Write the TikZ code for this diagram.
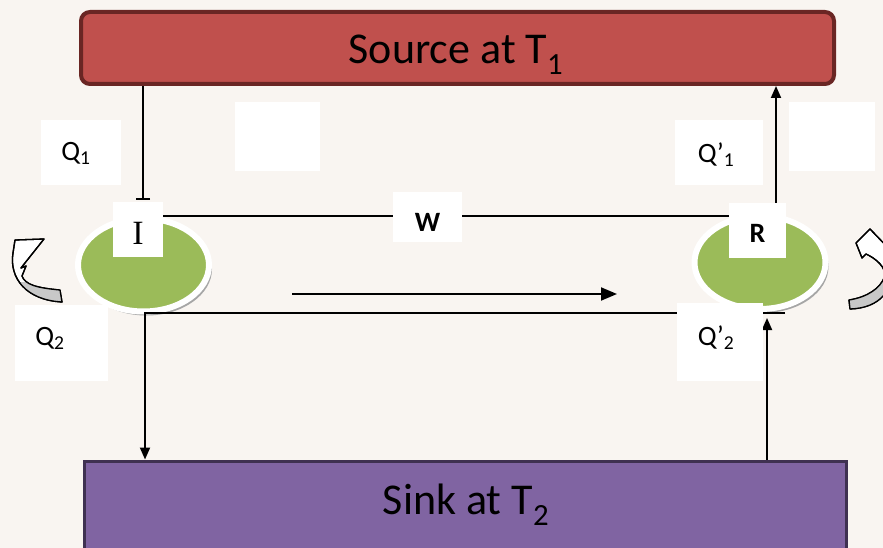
\documentclass[tikz,border=0pt]{standalone}
\usepackage{fontspec}
\setmainfont{Carlito}
\newfontfamily\serifI{Liberation Serif}
\usetikzlibrary{arrows.meta,shapes.geometric,shadows}
\definecolor{bgcol}{HTML}{F9F5F1}
\definecolor{srcfill}{HTML}{C0504D}
\definecolor{srcdraw}{HTML}{6A2624}
\definecolor{sinkfill}{HTML}{8064A2}
\definecolor{sinkdraw}{HTML}{3F3151}
\definecolor{engfill}{HTML}{9BBB59}
\definecolor{curvegray}{HTML}{C8C8C8}
\begin{document}
\begin{tikzpicture}[x=1pt,y=-1pt,
  conn/.style={line width=1.9pt,draw=black},
  tip/.style={-{Triangle[length=12pt,width=10pt]}},
  bigtip/.style={-{Triangle[length=16pt,width=13pt]}},
  whitebox/.style={rectangle,fill=white,draw=none,inner sep=0pt},
  lbl/.style={inner sep=0pt,font=\fontsize{28}{32}\selectfont},
  blbl/.style={inner sep=0pt,font=\fontsize{28}{32}\selectfont\bfseries},
  bigtxt/.style={inner sep=0pt,font=\fontsize{44}{50}\selectfont},
  engine/.style={ellipse,fill=engfill,draw=white,line width=6pt,inner sep=0pt,
     minimum width=131pt,minimum height=93pt,
     drop shadow={shadow xshift=3pt,shadow yshift=-4pt,fill=black!35,opacity=1}},
  curvearrow/.style={draw=black,line width=1.3pt,line join=round},
]
\fill[bgcol] (0,0) rectangle (883,548);
\useasboundingbox (0,0) rectangle (883,548);

% reservoirs
\node[rectangle,rounded corners=9pt,fill=srcfill,draw=srcdraw,line width=4pt,
      minimum width=753pt,minimum height=72pt,inner sep=0pt] (src) at (457.5,48) {};
\node[rectangle,fill=sinkfill,draw=sinkdraw,line width=3pt,
      minimum width=762pt,minimum height=88pt,inner sep=0pt] (sink) at (465.5,505) {};
\node[bigtxt] (tsrc) at (456,55) {Source at T\textsubscript{1}};
\node[bigtxt] (tsink) at (466,505) {Sink at T\textsubscript{2}};

% engines
\node[engine] (ellI) at (143.5,265) {};
\node[engine] (ellR) at (760,262.5) {};

% curved arrows
\def\leftarrowpath{(60,290) .. controls (38,288) and (25,285) .. (22,276)
  -- (26,266) -- (21,268) -- (44,239) -- (15,240) -- (13,253)
  .. controls (9,278) and (26,300) .. (62,302) -- cycle}
\def\rightarrowpath{(849,300) .. controls (868,297) and (880,288) .. (884,278)
  .. controls (888,268) and (875,258) .. (866,254) -- (862,258) -- (856,243) -- (870,229)
  -- (895,255) -- (892,262) .. controls (895,290) and (880,308) .. (850,309) -- cycle}
\path[curvearrow,fill=white] \leftarrowpath;
\begin{scope}
\clip (21,282) rectangle (70,312);
\fill[curvegray] \leftarrowpath;
\end{scope}
\path[curvearrow] \leftarrowpath;

\path[curvearrow,fill=white] \rightarrowpath;
\begin{scope}
\clip (840,276) rectangle (900,320);
\fill[curvegray] \rightarrowpath;
\end{scope}
\path[curvearrow] \rightarrowpath;

% label boxes (nodes)
\node[whitebox,minimum width=50pt,minimum height=55pt] (boxI) at (138,229.5) {};
\node[whitebox,minimum width=57pt,minimum height=55pt] (boxR) at (757.5,230.5) {};
\node[whitebox,minimum width=69pt,minimum height=50pt] (boxW) at (427.5,217) {};

% coordinates for connectors
\coordinate (t1) at (143,200);
\coordinate (wy) at (0,216);
\coordinate (rup) at (776,216);
\coordinate (b1) at (785,313);
\coordinate (lx) at (145,313);
\coordinate (rtip) at (767,318);
\coordinate (m1) at (292,294);
\coordinate (m2) at (617,294);

% connectors
\draw[conn,-{Bar[width=14pt,line width=1.6pt]}] (src.south -| t1) -- (t1);
\draw[conn] (boxI.east |- wy) -- (boxW.west |- wy);
\draw[conn,tip] (boxW.east |- wy) -- (rup) -- (src.south -| rup);
\draw[conn,tip] (b1) -- (lx) -- (lx |- sink.north);
\draw[conn,tip] (rtip |- sink.north) -- (rtip);
\draw[conn,bigtip] (m1) -- (m2);

% boxes on top of lines
\node[whitebox,minimum width=50pt,minimum height=55pt] (boxI2) at (boxI) {};
\node[whitebox,minimum width=57pt,minimum height=55pt] (boxR2) at (boxR) {};
\node[whitebox,minimum width=69pt,minimum height=50pt] (boxW2) at (boxW) {};
\node[whitebox,minimum width=80pt,minimum height=65pt] (q1box) at (81,152.5) {};
\node[whitebox,minimum width=85pt,minimum height=69pt] (e1box) at (277.5,136.5) {};
\node[whitebox,minimum width=88pt,minimum height=65pt] (q1pbox) at (719,152.5) {};
\node[whitebox,minimum width=86pt,minimum height=69pt] (e2box) at (832,136.5) {};
\node[whitebox,minimum width=93pt,minimum height=76pt] (q2box) at (61.5,343) {};
\node[whitebox,minimum width=86pt,minimum height=78pt] (q2pbox) at (720,342) {};

% texts
\node[inner sep=0pt,font=\fontsize{34}{38}\selectfont\serifI] (tI) at (138,233) {I};
\node[blbl] (tR) at (757.5,233) {R};
\node[blbl] (tW) at (427.5,222) {W};
\node[lbl] (tq1) at (76,153) {Q\textsubscript{1}};
\node[lbl] (tq1p) at (716,155) {Q’\textsubscript{1}};
\node[lbl] (tq2) at (50,338) {Q\textsubscript{2}};
\node[lbl] (tq2p) at (716,338) {Q’\textsubscript{2}};
\end{tikzpicture}
\end{document}
